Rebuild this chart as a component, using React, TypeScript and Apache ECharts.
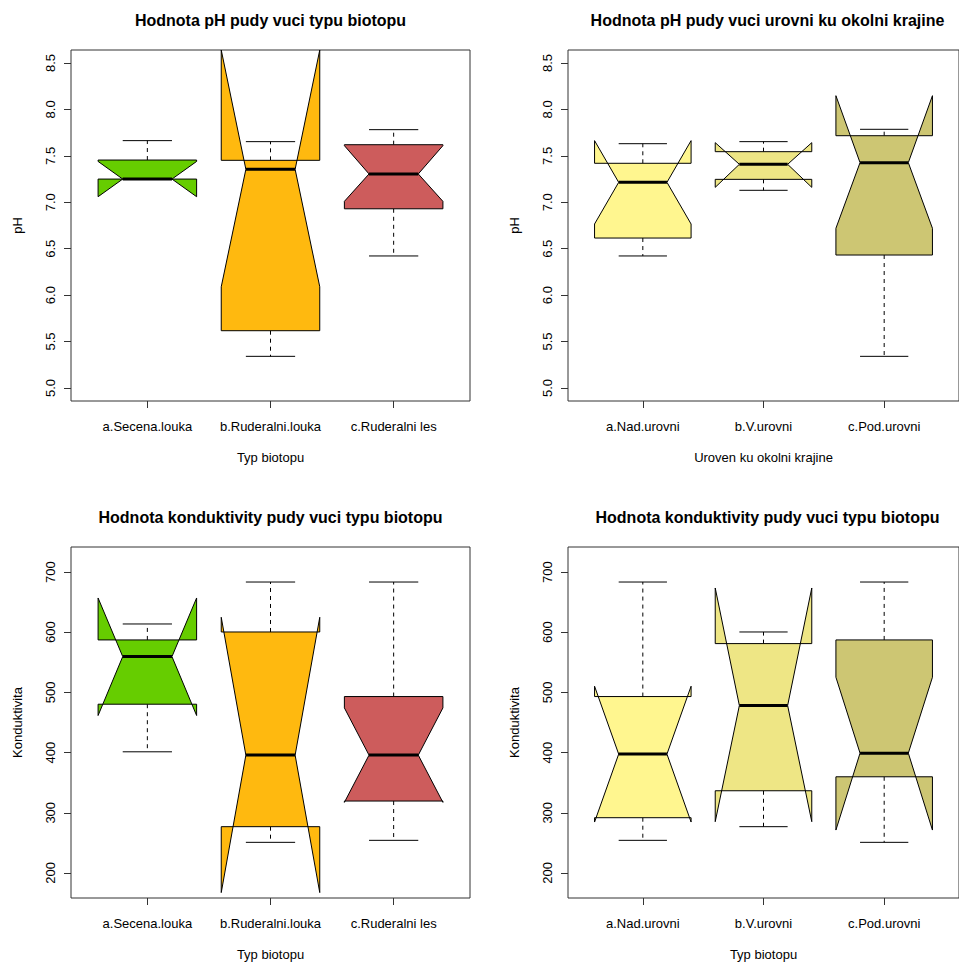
import React, { useEffect, useRef } from "react";
import * as echarts from "echarts";

// Categories
const biotopCats = ["a.Secena.louka", "b.Ruderalni.louka", "c.Ruderalni les"];
const urovenCats = ["a.Nad.urovni", "b.V.urovni", "c.Pod.urovni"];

// Box statistics per group: [lowerWhisker, Q1, median, Q3, upperWhisker, notchLow, notchHigh]
const phBiotop = [
  [7.25, 7.25, 7.25, 7.455, 7.664, 7.06, 7.44],
  [5.341, 5.617, 7.355, 7.452, 7.653, 6.09, 8.64],
  [6.422, 6.93, 7.305, 7.62, 7.782, 7.01, 7.61],
];
const phUroven = [
  [6.422, 6.615, 7.215, 7.42, 7.631, 6.766, 7.664],
  [7.129, 7.247, 7.409, 7.545, 7.653, 7.161, 7.642],
  [5.341, 6.432, 7.427, 7.717, 7.786, 6.72, 8.148],
];
const kondBiotop = [
  [401.3, 480.4, 559.5, 587.2, 613.7, 461.6, 656.9],
  [250.9, 276.9, 395.8, 600.4, 683.4, 167.4, 624.8],
  [254.2, 319.5, 395.8, 493.1, 683.4, 317.3, 474.3],
];
const kondUroven = [
  [254.2, 291.8, 397.5, 493.1, 683.4, 284.6, 510.3],
  [276.9, 336.6, 478.2, 581.1, 600.4, 285.2, 673.5],
  [250.9, 359.8, 399.1, 587.2, 683.4, 271.3, 525.2],
];

// Tick values
const phTicks = [5.0, 5.5, 6.0, 6.5, 7.0, 7.5, 8.0, 8.5];
const kondTicks = [200, 300, 400, 500, 600, 700];
const groupTicks = [1, 2, 3];

// Colours
const biotopColors = ["#66CD00", "#FFB90F", "#CD5C5C"];
const urovenColors = ["#FFF68F", "#EEE685", "#CDC673"];

// Titles and axis names
const titles = [
  "Hodnota pH pudy vuci typu biotopu",
  "Hodnota pH pudy vuci urovni ku okolni krajine",
  "Hodnota konduktivity pudy vuci typu biotopu",
  "Hodnota konduktivity pudy vuci typu biotopu",
];
const xNames = ["Typ biotopu", "Uroven ku okolni krajine", "Typ biotopu", "Typ biotopu"];
const yNames = ["pH", "pH", "Konduktivita", "Konduktivita"];

const FONT = "'Liberation Sans', Arial, Helvetica, sans-serif";
const BOX_W = 0.8;

export default function App() {
  const ref = useRef<HTMLDivElement>(null);

  useEffect(() => {
    if (!ref.current) return;
    const chart = echarts.init(ref.current, undefined, { renderer: "svg" });

    const panels = [
      { data: phBiotop, cats: biotopCats, colors: biotopColors, ticks: phTicks, min: 4.86, max: 8.64, fmt: (v: number) => v.toFixed(1) },
      { data: phUroven, cats: urovenCats, colors: urovenColors, ticks: phTicks, min: 4.86, max: 8.64, fmt: (v: number) => v.toFixed(1) },
      { data: kondBiotop, cats: biotopCats, colors: biotopColors, ticks: kondTicks, min: 158.4, max: 741.6, fmt: (v: number) => String(Math.round(v)) },
      { data: kondUroven, cats: urovenCats, colors: urovenColors, ticks: kondTicks, min: 158.4, max: 741.6, fmt: (v: number) => String(Math.round(v)) },
    ];
    const lefts = [71, 568, 71, 568];
    const tops = [50, 50, 547, 547];
    const titleTops = [12, 12, 509, 509];

    const renderItem = (colors: string[]) => (params: any, api: any) => {
      const x = api.value(0);
      const lo = api.value(1), q1 = api.value(2), med = api.value(3), q3 = api.value(4), hi = api.value(5);
      const cl = api.value(6), ch = api.value(7);
      const w = api.size([BOX_W, 0])[0];
      const p = (dx: number, v: number) => {
        const c = api.coord([x, v]);
        return [c[0] + (dx * w) / 2, c[1]];
      };
      const pts = [
        p(-1, q1), p(1, q1), p(1, cl), p(0.5, med), p(1, ch),
        p(1, q3), p(-1, q3), p(-1, ch), p(-0.5, med), p(-1, cl),
      ];
      const line = (a: number[], b: number[], dash: boolean, lw = 1) => ({
        type: "line",
        shape: { x1: a[0], y1: a[1], x2: b[0], y2: b[1] },
        style: { stroke: "#000", lineWidth: lw, lineDash: dash ? [4, 4] : null },
      });
      return {
        type: "group",
        children: [
          line(p(0, q3), p(0, hi), true),
          line(p(0, q1), p(0, lo), true),
          line(p(-0.5, hi), p(0.5, hi), false),
          line(p(-0.5, lo), p(0.5, lo), false),
          {
            type: "polygon",
            shape: { points: pts },
            style: { fill: colors[params.dataIndex], stroke: "#000", lineWidth: 1 },
          },
          line(p(-0.5, med), p(0.5, med), false, 3),
        ],
      };
    };

    const option: any = {
      animation: false,
      backgroundColor: "#fff",
      title: titles.map((t, i) => ({
        text: t,
        left: lefts[i] + 199.5,
        top: titleTops[i],
        textAlign: "center",
        padding: 0,
        textStyle: { fontFamily: FONT, fontSize: 16, fontWeight: "bold", color: "#000" },
      })),
      grid: panels.map((_, i) => ({
        left: lefts[i],
        top: tops[i],
        width: 399,
        height: 351,
        show: true,
        borderColor: "#333",
        borderWidth: 1,
        backgroundColor: "transparent",
      })),
      xAxis: panels.map((pn, i) => ({
        type: "value",
        gridIndex: i,
        min: 0.38,
        max: 3.62,
        name: xNames[i],
        nameLocation: "middle",
        nameGap: 50,
        nameTextStyle: { fontFamily: FONT, fontSize: 13, color: "#000" },
        axisLine: { show: false },
        splitLine: { show: false },
        axisTick: { show: true, length: 7, customValues: groupTicks, lineStyle: { color: "#333" } },
        axisLabel: {
          customValues: groupTicks,
          formatter: (v: number) => pn.cats[Math.round(v) - 1] ?? "",
          margin: 19,
          fontFamily: FONT,
          fontSize: 13,
          color: "#000",
        },
      })),
      yAxis: panels.map((pn, i) => ({
        type: "value",
        gridIndex: i,
        min: pn.min,
        max: pn.max,
        name: yNames[i],
        nameLocation: "middle",
        nameGap: 47,
        nameTextStyle: { fontFamily: FONT, fontSize: 13, color: "#000" },
        axisLine: { show: false },
        splitLine: { show: false },
        axisTick: { show: true, length: 7, customValues: pn.ticks, lineStyle: { color: "#333" } },
        axisLabel: {
          customValues: pn.ticks,
          rotate: 90,
          formatter: pn.fmt,
          margin: 14,
          fontFamily: FONT,
          fontSize: 13,
          color: "#000",
        },
      })),
      series: panels.map((pn, i) => ({
        type: "custom",
        xAxisIndex: i,
        yAxisIndex: i,
        clip: true,
        renderItem: renderItem(pn.colors),
        encode: { x: 0, y: [1, 2, 3, 4, 5, 6, 7] },
        data: pn.data.map((row, j) => [groupTicks[j], ...row]),
      })),
    };

    chart.setOption(option);
    return () => chart.dispose();
  }, []);

  return (
    <div
      ref={ref}
      style={{ position: "absolute", left: 0, top: 0, width: 959, height: 964, background: "#fff" }}
    />
  );
}
